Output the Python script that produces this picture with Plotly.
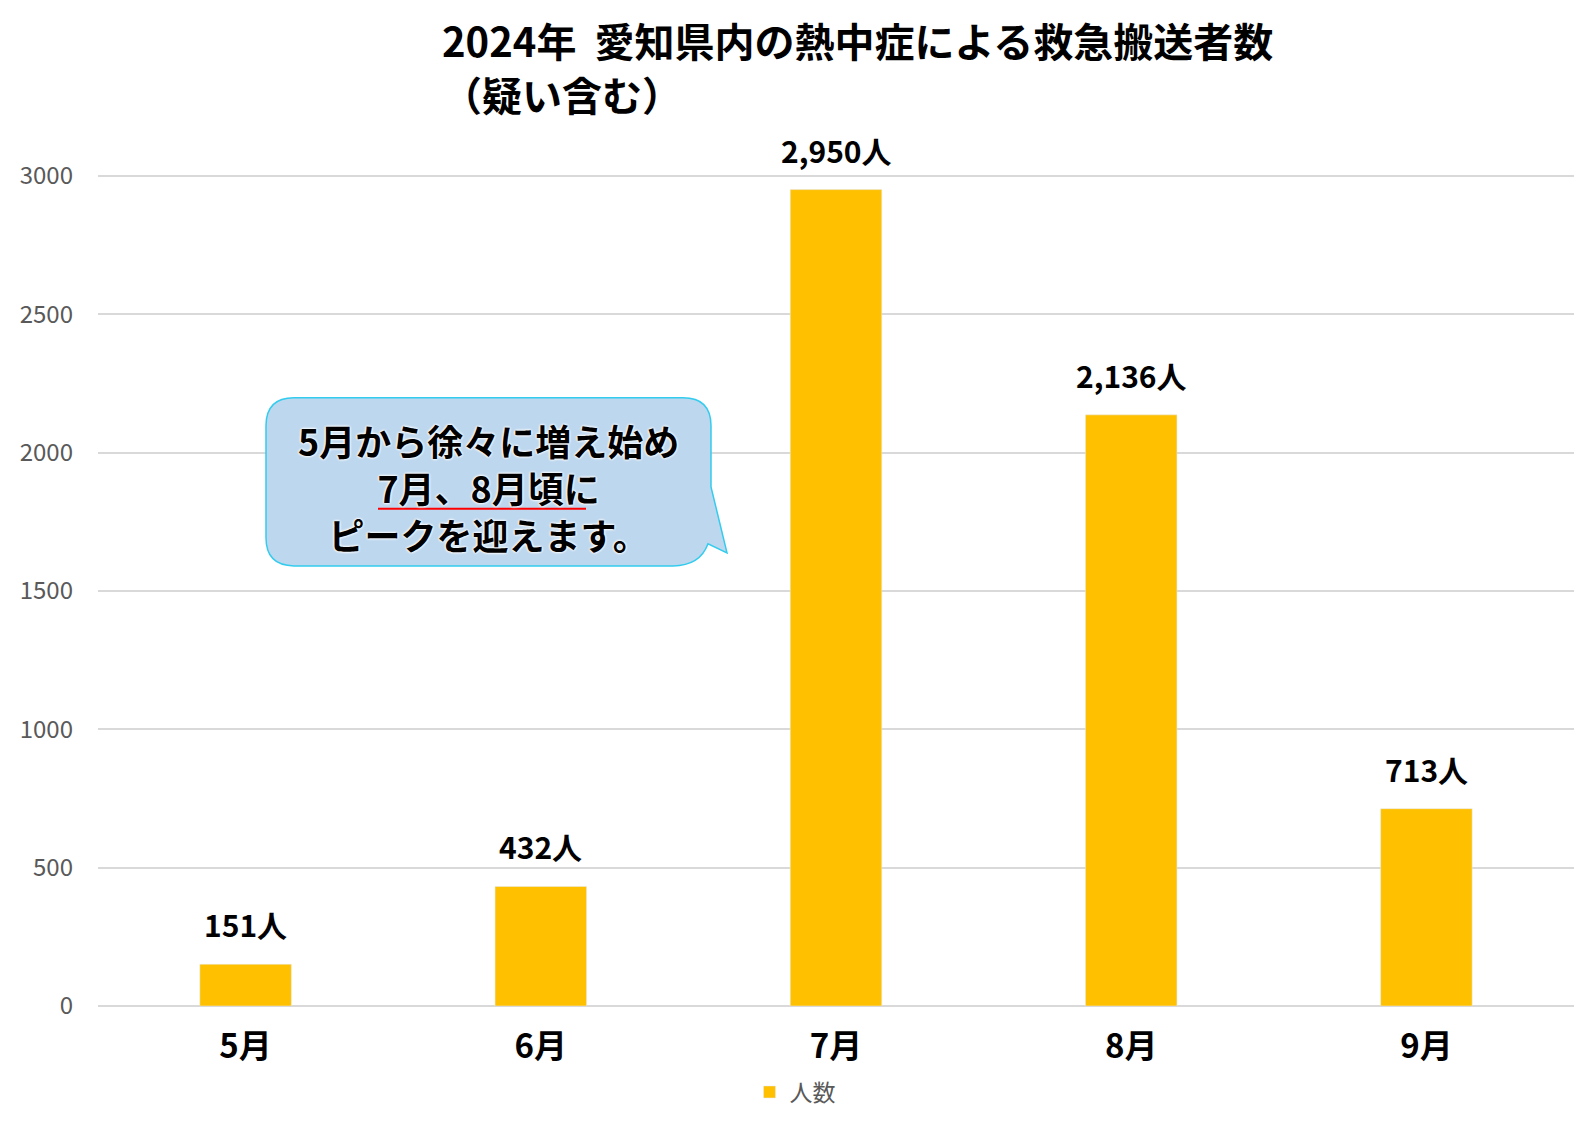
import plotly.graph_objects as go

# ---- data ----
months = ["5月", "6月", "7月", "8月", "9月"]
counts = [151, 432, 2950, 2136, 713]
series_name = "人数"
y_ticks = [0, 500, 1000, 1500, 2000, 2500, 3000]
title_line1 = "2024年&nbsp;&nbsp;愛知県内の熱中症による救急搬送者数"
title_line2 = "（疑い含む）"
callout_lines = ["5月から徐々に増え始め", "7月、8月頃に", "ピークを迎えます。"]

W, H = 1593, 1128
YMAX = 3010
L, R, B = 98, 1574, 1006
T = B - (B - 176) * YMAX / 3000.0
JP = "Noto Sans CJK JP"


def px(x, y):
    return (x - L) / (R - L), (B - y) / (B - T)


fig = go.Figure()
fig.add_trace(go.Bar(
    x=months, y=counts, name=series_name,
    marker_color="#FFC000", width=0.31,
    hoverinfo="skip", showlegend=True,
))

# value labels
for m, v in zip(months, counts):
    fig.add_annotation(
        x=m, y=v, xref="x", yref="y", text=f"<b>{v:,}人</b>",
        showarrow=False, yanchor="bottom", yshift=16,
        font=dict(family=JP, size=30, color="#000000"),
    )

# title (two lines)
for txt, yy, xx in [(title_line1, 40, 440), (title_line2, 94, 440)]:
    tx, ty = px(xx, yy)
    fig.add_annotation(
        x=tx, y=ty, xref="paper", yref="paper", xanchor="left", yanchor="middle",
        text="<b>" + txt + "</b>", align="left", showarrow=False,
        font=dict(family=JP, size=40, color="#000000"),
    )

# callout bubble
r = 28
x0, y0, x1, y1 = 266, 398, 711, 566
pts = [
    ("M", (x0 + r, y0)), ("L", (x1 - r, y0)), ("Q", (x1, y0), (x1, y0 + r)),
    ("L", (x1, 487)), ("L", (727, 553)), ("L", (708, 544)),
    ("Q", (700, y1), (x1 - r - 10, y1)),
    ("L", (x0 + r, y1)), ("Q", (x0, y1), (x0, y1 - r)),
    ("L", (x0, y0 + r)), ("Q", (x0, y0), (x0 + r, y0)),
]
path = ""
for seg in pts:
    cmd = seg[0]
    coords = " ".join("%.5f,%.5f" % px(*p) for p in seg[1:])
    path += f"{cmd}{coords} "
path += "Z"
fig.add_shape(type="path", xref="paper", yref="paper", path=path,
              fillcolor="#BDD7EE", line=dict(color="#33CCEE", width=1.5), layer="above")

cx, cy = px(488, 487)
fig.add_annotation(
    x=cx, y=cy, xref="paper", yref="paper", xanchor="center", yanchor="middle",
    text="<b>" + "<br>".join(callout_lines) + "</b>", align="center", showarrow=False,
    font=dict(family=JP, size=36, color="#000000",
              shadow="0px 0px 3px #ffffff, 0px 0px 3px #ffffff, 0px 0px 2px #ffffff"),
)
ux0, uy = px(378, 509)
ux1, _ = px(586, 509)
fig.add_shape(type="line", xref="paper", yref="paper", x0=ux0, x1=ux1, y0=uy, y1=uy,
              line=dict(color="#FF0000", width=2), layer="above")

lx, ly = px(795, 1092)
fig.update_layout(
    width=W, height=H, autosize=False,
    margin=dict(l=L, r=W - R, t=T, b=H - B, pad=0),
    plot_bgcolor="white", paper_bgcolor="white",
    bargap=0.69,
    showlegend=True,
    legend=dict(orientation="h", x=lx, y=ly, xanchor="center", yanchor="middle",
                font=dict(family=JP, size=23, color="#595959"), bgcolor="rgba(0,0,0,0)"),
    xaxis=dict(tickfont=dict(family=JP, size=33, color="#000000", weight="bold"),
               showgrid=False, showline=False, ticks="", ticklabelstandoff=18),
    yaxis=dict(range=[0, YMAX], tickvals=y_ticks, showgrid=True, gridcolor="#D9D9D9",
               gridwidth=1.5, zeroline=True, zerolinecolor="#D9D9D9", zerolinewidth=1.5,
               tickfont=dict(family=JP, size=24, color="#595959"), ticks="",
               ticklabelstandoff=24, showline=False),
    hovermode=False,
)

fig.write_html("out.html", config={"displayModeBar": False},
               post_script="document.body.style.margin='0px';document.body.style.overflow='hidden';")
